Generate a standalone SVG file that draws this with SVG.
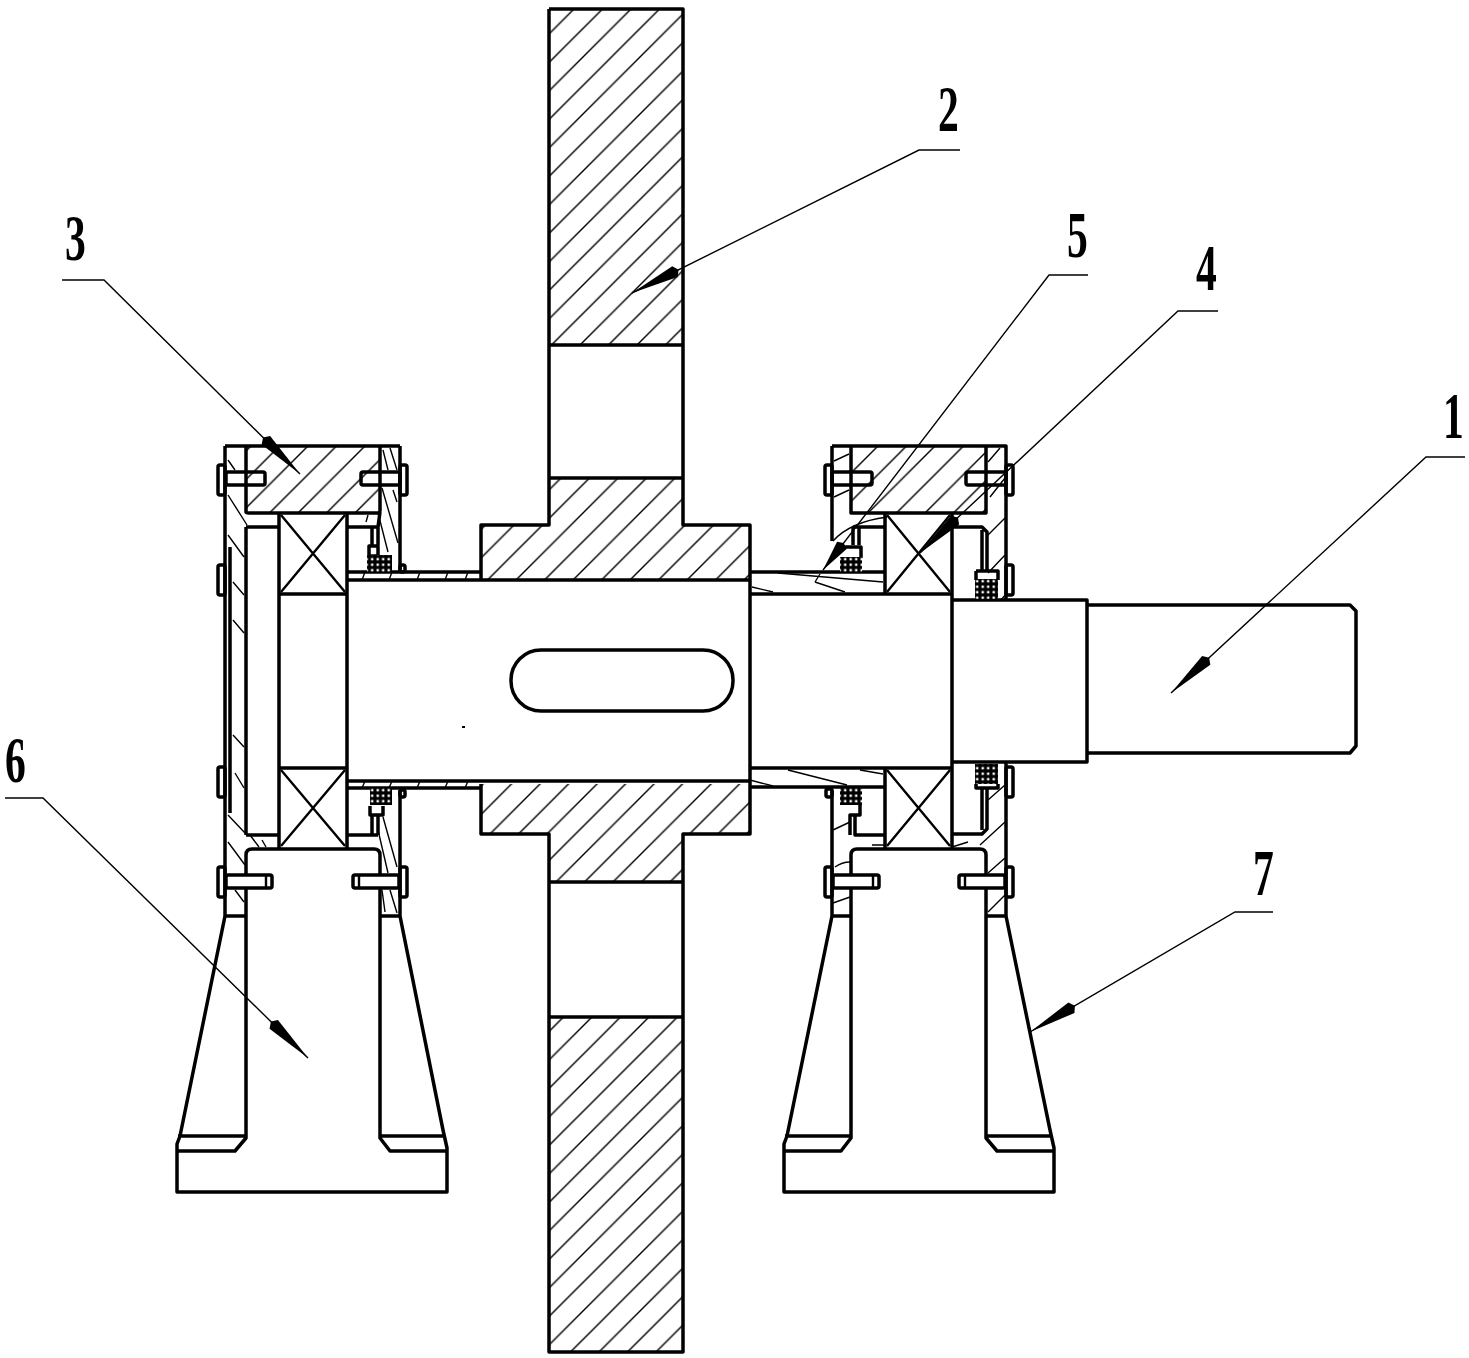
<svg xmlns="http://www.w3.org/2000/svg" width="1469" height="1358" viewBox="0 0 1469 1358">
<style>
.t{fill:none;stroke:#000;stroke-width:3.5;stroke-linejoin:round}
.w{fill:#fff;stroke:#000;stroke-width:3.5}
.h{fill:none;stroke:#000;stroke-width:1.4}
.x{fill:none;stroke:#000;stroke-width:2.4}
.l{fill:none;stroke:#000;stroke-width:1.4}
.a{marker-end:url(#ah)}
.n{font-family:"Liberation Serif",serif;font-size:66px;font-weight:bold;fill:#000}
</style>
<defs>
<pattern id="hA" patternUnits="userSpaceOnUse" x="13" width="28.5" height="28.5"><path d="M-2,30.5L30.5,-2M-2,2L2,-2M26.5,30.5L30.5,26.5" stroke="#000" stroke-width="1.4" fill="none"/></pattern>
<pattern id="dots" patternUnits="userSpaceOnUse" x="1" y="1" width="5.5" height="5.5"><rect width="5.5" height="5.5" fill="#000"/><rect x="1.5" y="1.5" width="2.4" height="2.4" fill="#fff"/></pattern>
<marker id="ah" markerUnits="userSpaceOnUse" markerWidth="54" markerHeight="14" refX="52" refY="7" orient="auto"><path d="M0,7L4,1L52,7L4,13Z" fill="#000"/></marker>
<marker id="as" markerUnits="userSpaceOnUse" markerWidth="36" markerHeight="14" refX="34" refY="7" orient="auto"><path d="M0,7L3,1L34,7L3,13Z" fill="#000"/></marker>
</defs>

<g id="gear">
<rect x="549" y="9" width="134" height="336" fill="url(#hA)"/>
<rect x="549" y="1017" width="134" height="335" fill="url(#hA)"/>
<path d="M549,478H683V525H750V579H481V525H549Z" fill="url(#hA)"/>
<path d="M481,784H750V834H683V882H549V834H481Z" fill="url(#hA)"/>
<path class="t" d="M549,9H683V525H750V834H683V1352H549V834H481V784M549,9V525H481V580M683,478H549M549,345H683M549,882H683M549,1017H683"/>
</g>

<g id="shaft">
<path class="t" d="M347,580H750M347,781H750M347,512V848M952,513V848M750,594H952M750,768H952M952,600H1087V762H952M1087,605H1350L1356,611V746L1350,753H1087"/>
<rect class="t" x="511" y="650" width="222" height="61" rx="30"/>
<rect x="462" y="726" width="3" height="2" fill="#000"/>
<path class="t" d="M347,572H481M347,788H481"/>
<path class="h" d="M365,572L362,580M392,572L389,580M420,572L417,580M448,572L445,580M468,572L465,580M365,781L362,788M392,781L389,788M420,781L417,788M448,781L445,788M468,781L465,788"/>
<path class="t" d="M750,572H885M750,787H885"/>
<path class="h" d="M778,573L883,582M752,587L773,592M815,582L845,592M815,582L820,574M788,770L847,785M860,770L883,774M750,780L773,786"/>
</g>

<g id="bearing-left">
<path class="t" d="M279,512V849M279,594H347M279,768H347"/>
<path class="x" d="M281,515L345,592M345,515L281,592M281,770L345,846M345,770L281,846"/>
</g>

<g id="bearing-right">
<path class="t" d="M885,513V594M885,768V848"/>
<path class="x" d="M887,515L950,592M950,515L887,592M887,770L950,846M950,770L887,846"/>
</g>

<g id="housing-left">
<path d="M246,446H380V512H246Z" fill="url(#hA)"/>
<path class="t" d="M225,446H400M225,446V916M400,446V570M400,790V916M246,446V512Q246,513 249,513H378Q380,513 380,510V446M230,547V813M246,527V835M246,527H279M246,835H279M380,512L378,527M372,527V545M378,527V545M347,527H378M225,916H246M380,916H400M347,835H378M372,815V835M378,815V835"/>
<path class="t" d="M246,1130V855Q246,849 252,849H374Q380,849 380,855V1130"/>
<path class="h" d="M228,460L235,470M228,495L247,525M228,535L244,557M233,582L244,595M233,620L244,633M233,735L244,747M235,773L244,788M228,815L245,833M228,842L245,865M235,890L244,902M383,450L388,470M390,448L397,470M382,488L398,543M378,513L388,552M393,490L397,502M368,515L366,522M383,817L397,867M378,830L388,873M390,890L397,913M382,890L385,912M250,835L259,847M262,840L266,847"/>
<rect class="t" x="218" y="465" width="7" height="30" rx="2"/>
<rect class="t" x="400" y="465" width="7" height="30" rx="2"/>
<rect class="t" x="218" y="565" width="7" height="30" rx="2"/>
<rect class="t" x="218" y="767" width="7" height="30" rx="2"/>
<rect class="t" x="400" y="565" width="5" height="7" rx="2"/>
<rect class="t" x="400" y="790" width="5" height="7" rx="2"/>
<rect class="t" x="226" y="472" width="39" height="13" rx="2"/>
<rect class="t" x="361" y="472" width="39" height="13" rx="2"/>
<rect class="w" x="226" y="875" width="46" height="13" rx="2"/>
<rect class="w" x="353" y="875" width="46" height="13" rx="2"/>
<path class="x" d="M266,875V888M359,875V888"/>
<path class="t" d="M369,546H378V556H369Z"/>
<rect x="367" y="555" width="25" height="17" fill="url(#dots)"/>
<rect x="370" y="788" width="22" height="17" fill="url(#dots)"/>
<path class="t" d="M370,806V815H383V806"/>
<rect class="t" x="218" y="867" width="7" height="30" rx="2"/>
<rect class="t" x="400" y="867" width="7" height="30" rx="2"/>
</g>

<g id="housing-right">
<path d="M850,446H986V513H850Z" fill="url(#hA)"/>
<path class="t" d="M832,446H1006V600M832,446V541M832,790V916M1006,762V916M851,446V513H986V446M853,527H885M853,527V545M859,527V545M952,527H982L987,532V572M982,530V572M952,834H982L987,829V788M982,788V830M860,805V815H850V835M855,815V835H885"/>
<path class="t" d="M851,1130V855Q851,849 857,849H980Q986,849 986,855V1130"/>
<path class="t" d="M832,916H851M986,916H1006"/>
<path class="h" d="M834,461L849,454M834,497L849,490M833,830L850,822M835,867Q842,862 850,862M833,903L850,897M988,462L1000,448M990,497L1005,478M988,535L1005,518M988,573L1005,555M1001,600L1006,594M988,800L1005,785M980,845L1005,822M988,873L1005,858M988,912L1005,895M833,541Q850,522 887,517M872,845L885,845M952,847L968,842"/>
<rect class="t" x="825" y="465" width="7" height="30" rx="2"/>
<rect class="t" x="1006" y="465" width="7" height="30" rx="2"/>
<rect class="t" x="1006" y="565" width="7" height="30" rx="2"/>
<rect class="t" x="1006" y="767" width="7" height="30" rx="2"/>
<rect class="t" x="826" y="789" width="6" height="8" rx="2"/>
<rect class="t" x="832" y="472" width="40" height="13" rx="2"/>
<rect class="t" x="966" y="472" width="40" height="13" rx="2"/>
<rect class="w" x="833" y="875" width="46" height="13" rx="2"/>
<rect class="w" x="959" y="875" width="46" height="13" rx="2"/>
<path class="x" d="M873,875V888M965,875V888"/>
<path class="t" d="M842,547H861V558"/>
<rect x="840" y="557" width="22" height="15" fill="url(#dots)"/>
<rect x="840" y="788" width="22" height="17" fill="url(#dots)"/>
<rect x="975" y="579" width="23" height="20" fill="url(#dots)"/>
<rect x="975" y="764" width="23" height="20" fill="url(#dots)"/>
<path class="t" d="M976,571H998V580M976,571V580M976,784V788H998V784"/>
<rect class="t" x="825" y="867" width="7" height="30" rx="2"/>
<rect class="t" x="1006" y="867" width="7" height="30" rx="2"/>
</g>

<g id="stand-left">
<path class="t" d="M225,916L180,1136L177,1144V1192H447V1148L443,1130L400,916M246,1130V1138L235,1151H177M380,1130V1138L390,1151H447M178,1136H246M380,1136H444"/>
</g>

<g id="stand-right">
<path class="t" d="M832,916L787,1136L784,1144V1192H1054V1148L1050,1130L1006,916M851,1130V1138L841,1151H784M986,1130V1138L997,1151H1054M785,1136H851M986,1136H1051"/>
</g>

<g id="connectors">
<polyline class="l a" points="960,150 919,150 632,293"/>
<polyline class="l a" points="62,280 104,280 300,474"/>
<polyline class="l" style="marker-end:url(#as)" points="1088,275 1049,275 823,570"/>
<polyline class="l a" points="1218,311 1178,311 920,553"/>
<polyline class="l a" points="1465,457 1426,457 1171,693"/>
<polyline class="l a" points="5,798 43,798 308,1058"/>
<polyline class="l a" points="1273,912 1235,912 1030,1032"/>
</g>

<g id="labels">
<text class="n" transform="translate(938,131) scale(.63,1)">2</text>
<text class="n" transform="translate(65,260) scale(.63,1)">3</text>
<text class="n" transform="translate(1067,257) scale(.63,1)">5</text>
<text class="n" transform="translate(1196,290) scale(.63,1)">4</text>
<text class="n" transform="translate(1443,438) scale(.63,1)">1</text>
<text class="n" transform="translate(5,782) scale(.63,1)">6</text>
<text class="n" transform="translate(1253,895) scale(.63,1)">7</text>
</g>
</svg>
